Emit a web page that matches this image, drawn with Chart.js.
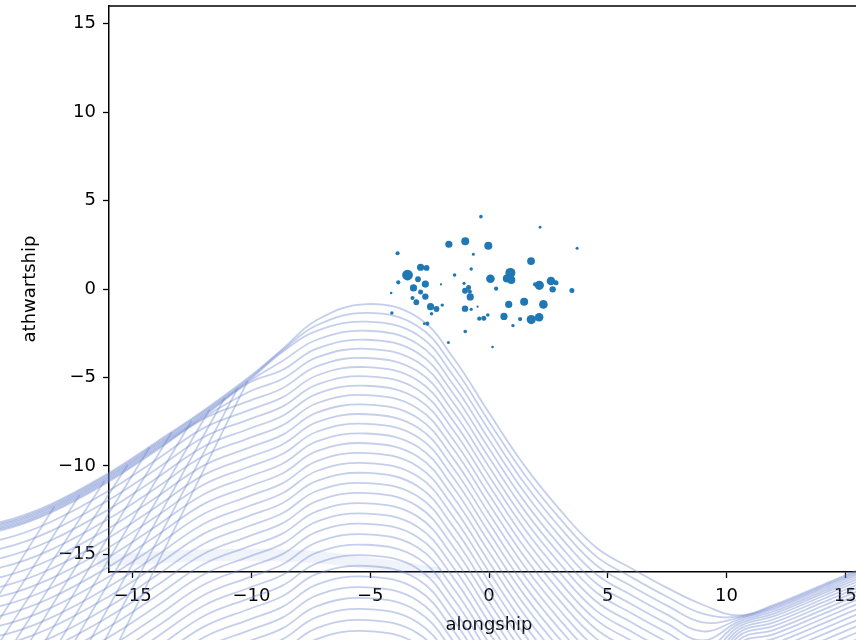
<!DOCTYPE html>
<html><head><meta charset="utf-8">
<script src="https://cdn.jsdelivr.net/npm/chart.js@4/dist/chart.umd.min.js"></script>
<style>
html,body{margin:0;padding:0;background:#fff;overflow:hidden;width:856px;height:640px}
#wrap{position:absolute;left:0;top:0;width:880px;height:640px}
</style>
</head><body><div id="wrap"><canvas id="c" width="880" height="640"></canvas></div>
<script>
// ---- axis ticks ----
const X_TICKS = [-15, -10, -5, 0, 5, 10, 15];
const Y_TICKS = [-15, -10, -5, 0, 5, 10, 15];

// ---- scattered detections (alongship, athwartship, strength) ----
const DOT_X = [-0.34, 2.15, 3.71, -3.85, -1.69, -1.00, -0.03, -0.66, 1.77, -0.75, -1.45, -2.88, -2.63, -3.43, -2.99, -3.82, -2.68, -3.18, -2.88, -2.68, -3.22, -3.06, -4.12, -4.09, -2.46, -2.21, -1.97, -2.42, -2.60, -2.02, -1.71, -1.05, -1.01, -0.86, -0.81, -0.79, -1.01, -0.75, -0.48, 0.06, 0.30, -0.41, -0.22, -0.05, -1.00, 0.15, 0.90, 0.75, 0.94, 0.83, 0.63, 1.48, 1.31, 1.01, 1.78, 2.11, 2.12, 1.94, 2.29, 2.61, 2.82, 2.68, 3.49, -2.73];
const DOT_Y = [4.09, 3.49, 2.30, 2.02, 2.53, 2.70, 2.45, 1.96, 1.58, 1.13, 0.79, 1.23, 1.19, 0.79, 0.55, 0.38, 0.28, 0.06, -0.17, -0.43, -0.51, -0.75, -0.23, -1.36, -1.00, -1.13, -0.91, -1.40, -1.96, 0.26, -3.02, 0.32, -0.10, 0.09, -0.15, -0.45, -1.11, -1.15, -1.00, 0.58, 0.02, -1.68, -1.66, -1.47, -2.40, -3.28, 0.91, 0.60, 0.51, -0.87, -1.55, -0.72, -1.70, -2.07, -1.73, -1.60, 0.21, 0.26, -0.87, 0.45, 0.36, -0.02, -0.09, -1.96];
const DOT_STRENGTH = [1.8, 1.4, 1.5, 2.1, 3.6, 4.0, 4.0, 1.5, 3.9, 1.7, 1.8, 3.6, 2.9, 5.4, 2.9, 2.1, 3.6, 3.6, 2.5, 3.2, 2.1, 2.9, 1.3, 1.7, 3.6, 2.9, 1.7, 1.7, 2.1, 1.1, 1.5, 1.6, 2.9, 2.5, 2.1, 3.6, 3.2, 1.6, 1.1, 4.3, 2.1, 2.1, 2.5, 1.8, 1.8, 1.3, 5.0, 4.0, 4.0, 3.6, 3.6, 4.0, 2.1, 1.7, 4.6, 4.3, 4.6, 2.1, 4.3, 4.3, 2.5, 3.2, 2.5, 1.3];

// ---- wave surface: crest profile of the far row, sampled alongship ----
const ALONG_X = [-22.5, -20.5, -18.5, -16, -14, -12, -10.1, -8.7, -7.25, -5.14, -3, -1.5, 0, 1.5, 3, 4.5, 6, 7.5, 9, 10.5, 12, 14, 15.5, 17];
const WAVE_Y  = [-13.5, -13.15, -12.2, -10.4, -8.65, -6.85, -4.98, -3.4, -1.75, -0.85, -1.6, -3.9, -7.0, -10.0, -12.5, -14.6, -15.8, -16.9, -17.85, -18.45, -17.85, -16.75, -15.9, -15.1];
const SECTION_OF = ['far','far','far','far','far','far','mid','near','crest','drop','drop','drop','drop','drop','drop','drop','drop','drop','drop','rise','rise','rise','rise','rise'];
// downward offset of each following row, per section
const ROW_DROP  = [0, 0.50, 1.00, 1.51, 2.02, 2.53, 3.05, 3.57, 4.09, 4.62, 5.15, 5.69, 6.23, 6.77, 7.32, 7.87, 8.43, 8.99, 9.55, 10.12, 10.69, 11.27, 11.85, 12.43, 13.02, 13.61, 14.21, 14.81, 15.41, 16.02, 16.63, 17.25, 17.87, 18.49, 19.12];
const ROW_CREST = [0, 0.30, 0.62, 1.12, 1.62, 2.12, 2.62, 3.14, 3.66, 4.18, 4.71, 5.24, 5.78, 6.32, 6.87, 7.42, 7.98, 8.54, 9.10, 9.67, 10.24, 10.82, 11.40, 11.98, 12.57, 13.16, 13.76, 14.36, 14.96, 15.57, 16.18, 16.80, 17.42, 18.04, 18.67];
const ROW_NEAR  = [0, 0.08, 0.16, 0.67, 1.18, 1.69, 2.21, 2.73, 3.25, 3.78, 4.31, 4.85, 5.39, 5.93, 6.48, 7.03, 7.59, 8.15, 8.71, 9.28, 9.85, 10.43, 11.01, 11.59, 12.18, 12.77, 13.37, 13.97, 14.57, 15.18, 15.79, 16.41, 17.03, 17.65, 18.28];
const ROW_MID   = [0, 0.08, 0.16, 0.24, 0.32, 0.83, 1.35, 1.87, 2.39, 2.92, 3.45, 3.99, 4.53, 5.07, 5.62, 6.17, 6.73, 7.29, 7.85, 8.42, 8.99, 9.57, 10.15, 10.73, 11.32, 11.91, 12.51, 13.11, 13.71, 14.32, 14.93, 15.55, 16.17, 16.79, 17.42];
const ROW_FAR   = [0, 0.08, 0.16, 0.24, 0.32, 0.40, 0.48, 1.00, 1.52, 2.05, 2.58, 3.12, 3.66, 4.20, 4.75, 5.30, 5.86, 6.42, 6.98, 7.55, 8.12, 8.70, 9.28, 9.86, 10.45, 11.04, 11.64, 12.24, 12.84, 13.45, 14.06, 14.68, 15.30, 15.92, 16.55];
const ROW_RISE  = [0, 0.07, 0.15, 0.25, 0.37, 0.50, 0.65, 0.82, 1.00, 1.20, 1.42, 1.66, 1.92, 2.20, 2.50, 2.82, 3.16, 3.52, 3.90, 4.30, 4.72, 5.16, 5.62, 6.10, 6.60, 7.12, 7.66, 8.22, 8.80, 9.40, 10.00, 10.60, 11.20, 11.80, 12.40];
// cross lines of the surface mesh (top end on the crest envelope, bottom end)
const COL_TOP_X = [-18.30, -17.24, -16.19, -15.22, -14.29, -13.36, -12.52, -11.76, -11.13, -10.58, -10.16];
const COL_TOP_Y = [-12.30, -11.65, -10.85, -9.95, -8.95, -8.10, -7.45, -6.80, -6.15, -5.60, -5.20];
const COL_BOT_X = [-22.09, -21.46, -20.83, -20.20, -19.56, -18.93, -18.30, -17.67, -17.03, -16.40, -15.77];
const COL_BOT_Y = [-20.43, -20.43, -20.43, -20.43, -20.43, -20.43, -20.43, -20.43, -20.43, -20.43, -20.43];
// pale fold band near the lower axis
const FOLD_X = [-16.5, -12, -8, -4.5, -2];
const FOLD_Y = [-15.4, -15.05, -15.1, -15.6, -16.1];

// ---- build datasets ----
const WAVE_COLOR = 'rgba(110,135,205,0.40)';
const OFFSETS = {far: ROW_FAR, mid: ROW_MID, near: ROW_NEAR, crest: ROW_CREST, drop: ROW_DROP, rise: ROW_RISE};
const datasets = [];
datasets.push({
  label: 'detections',
  data: DOT_X.map((x, i) => ({x: x, y: DOT_Y[i]})),
  pointRadius: DOT_STRENGTH,
  pointBackgroundColor: '#1f77b4',
  pointBorderWidth: 0,
  pointBorderColor: 'rgba(0,0,0,0)',
  order: 0
});
// points are listed from the stern end so every sample (also those past the axis range) is drawn
ROW_DROP.forEach((_, k) => {
  datasets.push({
    label: 'row' + k,
    data: ALONG_X.map((x, i) => ({x: x, y: WAVE_Y[i] - OFFSETS[SECTION_OF[i]][k]})).reverse(),
    showLine: true, pointRadius: 0, borderColor: WAVE_COLOR, borderWidth: 1.8,
    tension: 0.4, capBezierPoints: false, clip: false, order: 2
  });
});
COL_TOP_X.forEach((x, j) => {
  datasets.push({
    label: 'col' + j,
    data: [{x: x, y: COL_TOP_Y[j]}, {x: COL_BOT_X[j], y: COL_BOT_Y[j]}],
    showLine: true, pointRadius: 0, borderColor: WAVE_COLOR, borderWidth: 1.8,
    clip: false, order: 2
  });
});
datasets.push({
  label: 'fold',
  data: FOLD_X.map((x, i) => ({x: x, y: FOLD_Y[i]})).reverse(),
  showLine: true, pointRadius: 0, borderColor: 'rgba(110,135,205,0.10)', borderWidth: 12,
  tension: 0.4, capBezierPoints: false, clip: false, order: 3
});

const fmt = v => (v < 0 ? '\u2212' + (-v) : String(v));
const FONT = {family: 'DejaVu Sans', size: 18};

const framePlugin = {
  id: 'frame',
  afterDatasetsDraw(chart) {
    const {ctx, chartArea: a} = chart;
    ctx.save();
    ctx.strokeStyle = '#000'; ctx.lineWidth = 1.5;
    ctx.beginPath();
    ctx.moveTo(a.left, a.top); ctx.lineTo(a.right, a.top); ctx.lineTo(a.right, a.bottom);
    ctx.stroke();
    ctx.restore();
  }
};

new Chart(document.getElementById('c'), {
  type: 'scatter',
  data: {datasets},
  options: {
    responsive: false, animation: false, devicePixelRatio: 1,
    layout: {padding: {top: 6, right: 11, left: 0, bottom: 0}},
    plugins: {legend: {display: false}, tooltip: {enabled: false}},
    scales: {
      x: {
        type: 'linear', min: -16, max: 16, position: 'bottom', z: 1,
        afterBuildTicks: s => { s.ticks = X_TICKS.map(v => ({value: v})); },
        afterFit: s => { s.height = 68; s.paddingLeft = 0; s.paddingRight = 0; },
        grid: {display: true, drawOnChartArea: false, drawTicks: true, tickLength: 6, tickWidth: 1.3, tickColor: '#000'},
        border: {display: true, color: '#000', width: 1.5},
        ticks: {color: '#000', font: FONT, padding: 8, maxRotation: 0, autoSkip: false, callback: fmt},
        title: {display: true, text: 'alongship', color: '#000', font: FONT, padding: {top: 0, bottom: 3.4}}
      },
      y: {
        type: 'linear', min: -16, max: 16, position: 'left', z: 1,
        afterBuildTicks: s => { s.ticks = Y_TICKS.map(v => ({value: v})); },
        afterFit: s => { s.width = 109; s.paddingTop = 0; s.paddingBottom = 0; },
        grid: {display: true, drawOnChartArea: false, drawTicks: true, tickLength: 6, tickWidth: 1.3, tickColor: '#000'},
        border: {display: true, color: '#000', width: 1.5},
        ticks: {color: '#000', font: FONT, padding: 7, autoSkip: false, callback: fmt},
        title: {display: true, text: 'athwartship', color: '#000', font: FONT, padding: {top: 20, bottom: 0}}
      }
    }
  },
  plugins: [framePlugin]
});
</script>
</body></html>
